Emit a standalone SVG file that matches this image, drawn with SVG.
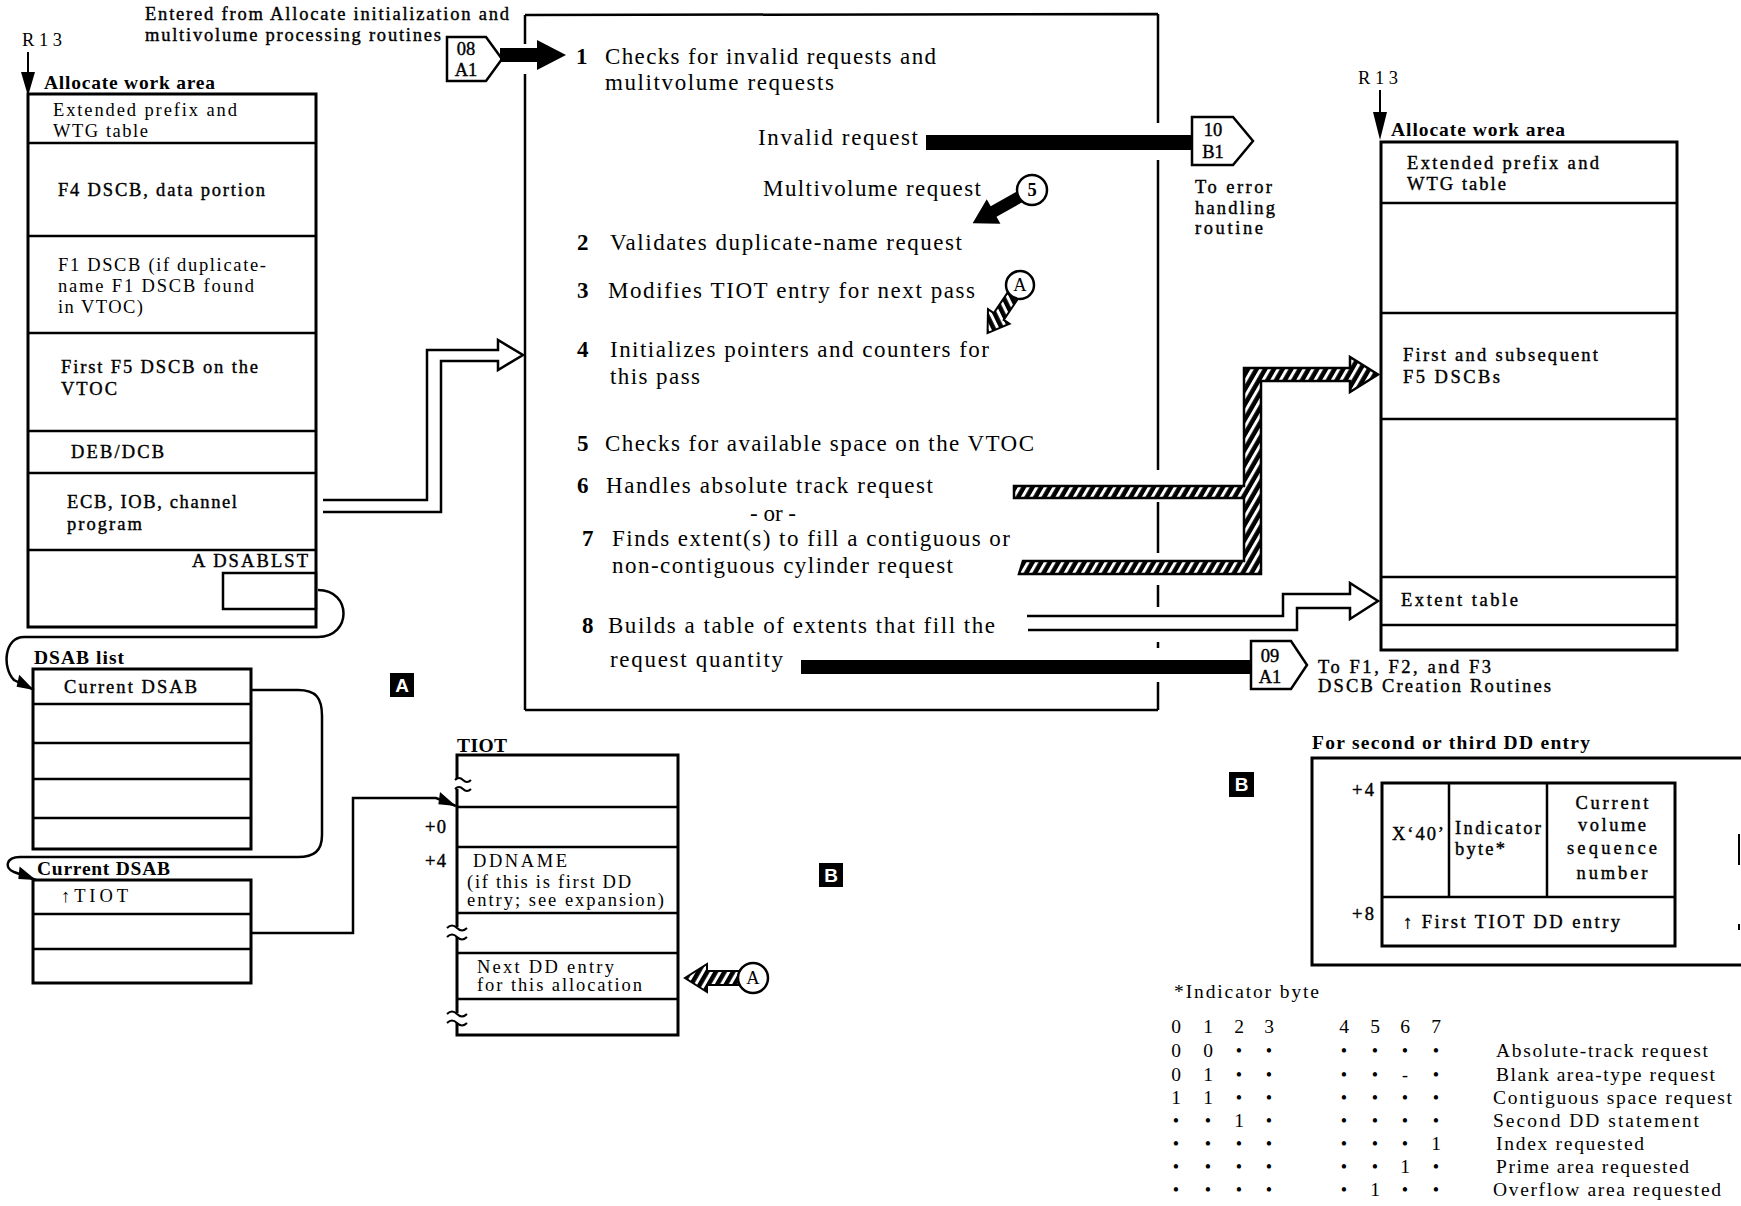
<svg xmlns="http://www.w3.org/2000/svg" width="1741" height="1206" viewBox="0 0 1741 1206">
<style>
.box{fill:none;stroke:#000;stroke-width:3}
.ln{fill:none;stroke:#000;stroke-width:2.5}
.thin{fill:none;stroke:#000;stroke-width:2}
.t{font-family:"Liberation Serif",serif;font-size:23px;fill:#000}
.lb{font-family:"Liberation Serif",serif;font-size:18.5px;fill:#000}
.med{stroke:#000;stroke-width:0.4}
.hd{font-family:"Liberation Serif",serif;font-size:19.5px;font-weight:bold;fill:#000}
.num{font-weight:bold}
.wt{fill:#fff;font-family:"Liberation Sans",sans-serif;font-weight:bold;font-size:19px}
.ib{font-family:"Liberation Serif",serif;font-size:19.5px;fill:#000}
.d{font-size:18px}
.mid{text-anchor:middle}
</style>
<defs>
<pattern id="hatch" width="7.5" height="7.5" patternUnits="userSpaceOnUse" patternTransform="rotate(30)">
<rect width="7.5" height="7.5" fill="#000"/><rect width="3" height="7.5" fill="#fff"/>
</pattern>
<marker id="wedge" markerUnits="userSpaceOnUse" viewBox="-22 -8 24 16" markerWidth="24" markerHeight="16" refX="0" refY="0" orient="auto">
<path d="M0,0 L-20,-7 L-17,5 Z" fill="#000"/>
</marker>
</defs>

<g id="entry-note">
<text class="lb med" x="145" y="20" textLength="364" lengthAdjust="spacing">Entered from Allocate initialization and</text>
<text class="lb med" x="145" y="41" textLength="296" lengthAdjust="spacing">multivolume processing routines</text>
</g>

<g id="work-area-left">
<text class="lb" x="22" y="46" textLength="40" lengthAdjust="spacing">R13</text>
<line class="thin" x1="28" y1="52" x2="28" y2="74"/>
<polygon points="21,72 35,72 28,96" fill="#000"/>
<text class="hd" x="44" y="89" textLength="171" lengthAdjust="spacing">Allocate work area</text>
<rect class="box" x="28" y="94" width="288" height="533"/>
<path class="ln" d="M28,143 H316 M28,236 H316 M28,333 H316 M28,431 H316 M28,473 H316 M28,550 H316"/>
<text class="lb" x="53" y="116" textLength="184" lengthAdjust="spacing">Extended prefix and</text>
<text class="lb" x="53" y="137" textLength="95" lengthAdjust="spacing">WTG table</text>
<text class="lb med" x="58" y="196" textLength="207" lengthAdjust="spacing">F4 DSCB, data portion</text>
<text class="lb" x="58" y="271" textLength="208" lengthAdjust="spacing">F1 DSCB (if duplicate-</text>
<text class="lb" x="58" y="292" textLength="196" lengthAdjust="spacing">name F1 DSCB found</text>
<text class="lb" x="58" y="313" textLength="85" lengthAdjust="spacing">in VTOC)</text>
<text class="lb med" x="61" y="373" textLength="197" lengthAdjust="spacing">First F5 DSCB on the</text>
<text class="lb med" x="61" y="395" textLength="56" lengthAdjust="spacing">VTOC</text>
<text class="lb med" x="71" y="458" textLength="93" lengthAdjust="spacing">DEB/DCB</text>
<text class="lb med" x="67" y="508" textLength="170" lengthAdjust="spacing">ECB, IOB, channel</text>
<text class="lb med" x="67" y="530" textLength="75" lengthAdjust="spacing">program</text>
<text class="lb med" x="192" y="567" textLength="116" lengthAdjust="spacing">A DSABLST</text>
<rect class="ln" x="223" y="573" width="93" height="36"/>
</g>

<g id="dsab-list">
<text class="hd" x="34" y="664" textLength="90" lengthAdjust="spacing">DSAB list</text>
<rect class="box" x="33" y="669" width="218" height="180"/>
<path class="ln" d="M33,704 H251 M33,743 H251 M33,779 H251 M33,818 H251"/>
<text class="lb med" x="64" y="693" textLength="133" lengthAdjust="spacing">Current DSAB</text>
</g>

<g id="current-dsab">
<text class="hd" x="37" y="875" textLength="133" lengthAdjust="spacing">Current DSAB</text>
<rect class="box" x="33" y="880" width="218" height="103"/>
<path class="ln" d="M33,914 H251 M33,949 H251"/>
<text class="lb" x="61" y="902" textLength="67" lengthAdjust="spacing">↑TIOT</text>
</g>

<g id="tiot">
<text class="hd" x="457" y="752" textLength="50" lengthAdjust="spacing">TIOT</text>
<rect class="box" x="457" y="755" width="221" height="280"/>
<path class="ln" d="M457,807 H678 M457,847 H678 M457,913 H678 M457,953 H678 M457,999 H678"/>
<rect x="450" y="779" width="14" height="10" fill="#fff"/>
<rect x="450" y="927" width="14" height="10" fill="#fff"/>
<rect x="450" y="1013" width="14" height="10" fill="#fff"/>
<path class="thin" d="M455,780 q4,-4 8,0 t8,0 M455,789 q4,-4 8,0 t8,0 M447,928 q5,-5 10,0 t10,0 M447,937 q5,-5 10,0 t10,0 M447,1014 q5,-5 10,0 t10,0 M447,1023 q5,-5 10,0 t10,0"/>
<text class="lb med" x="425" y="833" textLength="21" lengthAdjust="spacing">+0</text>
<text class="lb med" x="425" y="867" textLength="21" lengthAdjust="spacing">+4</text>
<text class="lb" x="473" y="867" textLength="94" lengthAdjust="spacing">DDNAME</text>
<text class="lb" x="467" y="888" textLength="164" lengthAdjust="spacing">(if this is first DD</text>
<text class="lb" x="467" y="906" textLength="197" lengthAdjust="spacing">entry; see expansion)</text>
<text class="lb" x="477" y="973" textLength="137" lengthAdjust="spacing">Next DD entry</text>
<text class="lb" x="477" y="991" textLength="165" lengthAdjust="spacing">for this allocation</text>
</g>

<g id="process-box">
<path class="ln" d="M525,15 L1158,14 M525,15 V44 M525,74 V710 M525,710 H1158 M1158,14 V123 M1158,160 V470 M1158,502 V553 M1158,585 V607 M1158,642 V648 M1158,682 V710"/>
<text class="t num" x="576" y="64">1</text>
<text class="t" x="605" y="64" textLength="331" lengthAdjust="spacing">Checks for invalid requests and</text>
<text class="t" x="605" y="90" textLength="229" lengthAdjust="spacing">mulitvolume requests</text>
<text class="t" x="758" y="145" textLength="160" lengthAdjust="spacing">Invalid request</text>
<text class="t" x="763" y="196" textLength="218" lengthAdjust="spacing">Multivolume request</text>
<text class="t num" x="577" y="250">2</text>
<text class="t" x="610" y="250" textLength="352" lengthAdjust="spacing">Validates duplicate-name request</text>
<text class="t num" x="577" y="298">3</text>
<text class="t" x="608" y="298" textLength="367" lengthAdjust="spacing">Modifies TIOT entry for next pass</text>
<text class="t num" x="577" y="357">4</text>
<text class="t" x="610" y="357" textLength="379" lengthAdjust="spacing">Initializes pointers and counters for</text>
<text class="t" x="610" y="384" textLength="90" lengthAdjust="spacing">this pass</text>
<text class="t num" x="577" y="451">5</text>
<text class="t" x="605" y="451" textLength="429" lengthAdjust="spacing">Checks for available space on the VTOC</text>
<text class="t num" x="577" y="493">6</text>
<text class="t" x="606" y="493" textLength="327" lengthAdjust="spacing">Handles absolute track request</text>
<text class="t mid" x="773" y="521">- or -</text>
<text class="t num" x="582" y="546">7</text>
<text class="t" x="612" y="546" textLength="398" lengthAdjust="spacing">Finds extent(s) to fill a contiguous or</text>
<text class="t" x="612" y="573" textLength="341" lengthAdjust="spacing">non-contiguous cylinder request</text>
<text class="t num" x="582" y="633">8</text>
<text class="t" x="608" y="633" textLength="387" lengthAdjust="spacing">Builds a table of extents that fill the</text>
<text class="t" x="610" y="667" textLength="173" lengthAdjust="spacing">request quantity</text>
</g>

<g id="conn-08">
<polygon class="ln" points="447,37 486,37 502,59 486,81 447,81" fill="#fff"/>
<text class="lb med mid" x="466" y="55">08</text>
<text class="lb med mid" x="466" y="76">A1</text>
</g>

<g id="conn-10">
<polygon class="ln" points="1192,117 1233,117 1253,141 1233,165 1192,165" fill="#fff"/>
<text class="lb med mid" x="1213" y="136">10</text>
<text class="lb med mid" x="1213" y="158">B1</text>
<text class="lb med" x="1195" y="193" textLength="77" lengthAdjust="spacing">To error</text>
<text class="lb med" x="1195" y="214" textLength="80" lengthAdjust="spacing">handling</text>
<text class="lb med" x="1195" y="234" textLength="68" lengthAdjust="spacing">routine</text>
</g>

<g id="conn-09">
<polygon class="ln" points="1251,641 1291,641 1307,665 1291,689 1251,689" fill="#fff"/>
<text class="lb med mid" x="1270" y="662">09</text>
<text class="lb med mid" x="1270" y="683">A1</text>
<text class="lb med" x="1318" y="673" textLength="173" lengthAdjust="spacing">To F1, F2, and F3</text>
<text class="lb med" x="1318" y="692" textLength="233" lengthAdjust="spacing">DSCB Creation Routines</text>
</g>

<g id="work-area-right">
<text class="lb" x="1358" y="84" textLength="40" lengthAdjust="spacing">R13</text>
<line class="thin" x1="1380" y1="90" x2="1380" y2="114"/>
<polygon points="1373,112 1387,112 1380,140" fill="#000"/>
<text class="hd" x="1391" y="136" textLength="174" lengthAdjust="spacing">Allocate work area</text>
<rect class="box" x="1381" y="142" width="296" height="508"/>
<path class="ln" d="M1381,203 H1677 M1381,313 H1677 M1381,419 H1677 M1381,577 H1677 M1381,625 H1677"/>
<text class="lb med" x="1407" y="169" textLength="192" lengthAdjust="spacing">Extended prefix and</text>
<text class="lb med" x="1407" y="190" textLength="99" lengthAdjust="spacing">WTG table</text>
<text class="lb med" x="1403" y="361" textLength="195" lengthAdjust="spacing">First and subsequent</text>
<text class="lb med" x="1403" y="383" textLength="97" lengthAdjust="spacing">F5 DSCBs</text>
<text class="lb med" x="1401" y="606" textLength="117" lengthAdjust="spacing">Extent table</text>
</g>

<g id="dd-entry-expansion">
<text class="hd" x="1312" y="749" textLength="278" lengthAdjust="spacing">For second or third DD entry</text>
<path class="box" d="M1741,758 H1312 V965 H1741"/>
<path class="thin" d="M1739,834 V865 M1739,924 V930"/>
<rect class="box" x="1382" y="783" width="293" height="163"/>
<path class="ln" d="M1382,897 H1675 M1449,783 V897 M1547,783 V897"/>
<text class="lb med" x="1352" y="796" textLength="22" lengthAdjust="spacing">+4</text>
<text class="lb med" x="1352" y="920" textLength="22" lengthAdjust="spacing">+8</text>
<text class="lb med" x="1392" y="840" textLength="52" lengthAdjust="spacing">X‘40’</text>
<text class="lb med" x="1455" y="834" textLength="86" lengthAdjust="spacing">Indicator</text>
<text class="lb med" x="1455" y="855" textLength="50" lengthAdjust="spacing">byte*</text>
<text class="lb med mid" x="1612" y="809" textLength="73" lengthAdjust="spacing">Current</text>
<text class="lb med mid" x="1612" y="831" textLength="68" lengthAdjust="spacing">volume</text>
<text class="lb med mid" x="1612" y="854" textLength="90" lengthAdjust="spacing">sequence</text>
<text class="lb med mid" x="1612" y="879" textLength="71" lengthAdjust="spacing">number</text>
<text class="lb med" x="1403" y="928" textLength="217" lengthAdjust="spacing">↑ First TIOT DD entry</text>
</g>

<g id="indicator-byte-legend">
<text class="ib" x="1174" y="998" textLength="145" lengthAdjust="spacing">*Indicator byte</text>
<text class="ib mid" y="1033"><tspan x="1176">0</tspan><tspan x="1208">1</tspan><tspan x="1239">2</tspan><tspan x="1269">3</tspan><tspan x="1344">4</tspan><tspan x="1375">5</tspan><tspan x="1405">6</tspan><tspan x="1436">7</tspan></text>
<text class="ib mid" y="1057"><tspan x="1176">0</tspan><tspan x="1208">0</tspan><tspan class="d" x="1239">•</tspan><tspan class="d" x="1269">•</tspan><tspan class="d" x="1344">•</tspan><tspan class="d" x="1375">•</tspan><tspan class="d" x="1405">•</tspan><tspan class="d" x="1436">•</tspan></text>
<text class="ib mid" y="1081"><tspan x="1176">0</tspan><tspan x="1208">1</tspan><tspan class="d" x="1239">•</tspan><tspan class="d" x="1269">•</tspan><tspan class="d" x="1344">•</tspan><tspan class="d" x="1375">•</tspan><tspan class="d" x="1405">-</tspan><tspan class="d" x="1436">•</tspan></text>
<text class="ib mid" y="1104"><tspan x="1176">1</tspan><tspan x="1208">1</tspan><tspan class="d" x="1239">•</tspan><tspan class="d" x="1269">•</tspan><tspan class="d" x="1344">•</tspan><tspan class="d" x="1375">•</tspan><tspan class="d" x="1405">•</tspan><tspan class="d" x="1436">•</tspan></text>
<text class="ib mid" y="1127"><tspan class="d" x="1176">•</tspan><tspan class="d" x="1208">•</tspan><tspan x="1239">1</tspan><tspan class="d" x="1269">•</tspan><tspan class="d" x="1344">•</tspan><tspan class="d" x="1375">•</tspan><tspan class="d" x="1405">•</tspan><tspan class="d" x="1436">•</tspan></text>
<text class="ib mid" y="1150"><tspan class="d" x="1176">•</tspan><tspan class="d" x="1208">•</tspan><tspan class="d" x="1239">•</tspan><tspan class="d" x="1269">•</tspan><tspan class="d" x="1344">•</tspan><tspan class="d" x="1375">•</tspan><tspan class="d" x="1405">•</tspan><tspan x="1436">1</tspan></text>
<text class="ib mid" y="1173"><tspan class="d" x="1176">•</tspan><tspan class="d" x="1208">•</tspan><tspan class="d" x="1239">•</tspan><tspan class="d" x="1269">•</tspan><tspan class="d" x="1344">•</tspan><tspan class="d" x="1375">•</tspan><tspan x="1405">1</tspan><tspan class="d" x="1436">•</tspan></text>
<text class="ib mid" y="1196"><tspan class="d" x="1176">•</tspan><tspan class="d" x="1208">•</tspan><tspan class="d" x="1239">•</tspan><tspan class="d" x="1269">•</tspan><tspan class="d" x="1344">•</tspan><tspan x="1375">1</tspan><tspan class="d" x="1405">•</tspan><tspan class="d" x="1436">•</tspan></text>
<text class="ib" x="1496" y="1057" textLength="212" lengthAdjust="spacing">Absolute-track request</text>
<text class="ib" x="1496" y="1081" textLength="219" lengthAdjust="spacing">Blank area-type request</text>
<text class="ib" x="1493" y="1104" textLength="239" lengthAdjust="spacing">Contiguous space request</text>
<text class="ib" x="1493" y="1127" textLength="206" lengthAdjust="spacing">Second DD statement</text>
<text class="ib" x="1496" y="1150" textLength="148" lengthAdjust="spacing">Index requested</text>
<text class="ib" x="1496" y="1173" textLength="193" lengthAdjust="spacing">Prime area requested</text>
<text class="ib" x="1493" y="1196" textLength="228" lengthAdjust="spacing">Overflow area requested</text>
</g>

<g id="label-A">
<rect x="390" y="673" width="24" height="24" fill="#000"/>
<text class="wt mid" x="402" y="692">A</text>
</g>
<g id="label-B-tiot">
<rect x="819" y="863" width="24" height="24" fill="#000"/>
<text class="wt mid" x="831" y="882">B</text>
</g>
<g id="label-B-expansion">
<rect x="1229" y="772" width="25" height="25" fill="#000"/>
<text class="wt mid" x="1241.5" y="791">B</text>
</g>

<g id="connectors">
<path d="M500,48 H537 V40 L566,55 L537,70 V62 H500 Z" fill="#000"/>
<rect x="926" y="135" width="267" height="15" fill="#000"/>
<rect x="801" y="660" width="451" height="14" fill="#000"/>
<polygon points="14,-6 44,-6 44,-14 68,0 44,14 44,6 14,6" fill="#000" transform="translate(1032,190) rotate(150.8)"/>
<circle cx="1032" cy="190" r="15" fill="#fff" stroke="#000" stroke-width="2.5"/>
<text class="lb mid num" x="1032" y="196">5</text>
<polygon points="14,-6 38,-6 38,-13 58,0 38,13 38,6 14,6" fill="url(#hatch)" stroke="#000" stroke-width="2" transform="translate(1020,285) rotate(124)"/>
<circle cx="1020" cy="285" r="14" fill="#fff" stroke="#000" stroke-width="2.5"/>
<text class="lb mid" x="1020" y="291">A</text>
<polygon points="14,-7 46,-7 46,-14 68,0 46,14 46,7 14,7" fill="url(#hatch)" stroke="#000" stroke-width="2" transform="translate(753,978) rotate(180)"/>
<circle cx="753" cy="978" r="15" fill="#fff" stroke="#000" stroke-width="2.5"/>
<text class="lb mid" x="753" y="984">A</text>
<path class="ln" d="M323,500 H427 V350 H498 V340 L523,355 L498,370 V361 H441 V512 H323"/>
<path d="M1014,486 H1244 V368 H1350 V357 L1378,374.5 L1350,392 V381 H1261 V574 H1019 L1023,561 H1244 V498 H1014 Z" fill="url(#hatch)" stroke="#000" stroke-width="2.5"/>
<path class="ln" d="M1027,616 H1283 V594 H1350 V583 L1378,601 L1350,619 V608 H1297 V630 H1028"/>
<path class="ln" d="M318,590 C352,590 352,637 318,637 L24,637 C4,637 2,668 14,680 L34,690" marker-end="url(#wedge)"/>
<path class="ln" d="M251,690 L298,690 C316,690 322,698 322,716 L322,835 C322,851 314,857 298,857 L20,857 C6,857 4,868 14,872 L36,880" marker-end="url(#wedge)"/>
<path class="ln" d="M251,933 H353 V798 H436 L456,806" marker-end="url(#wedge)"/>
</g>
</svg>
